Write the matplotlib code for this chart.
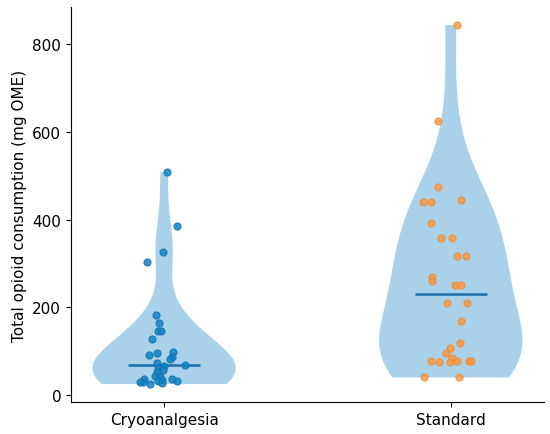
import matplotlib
matplotlib.use("Agg")
import matplotlib.pyplot as plt
import numpy as np

groups = ["Cryoanalgesia", "Standard"]

# total opioid consumption (mg OME)
cryo = [508, 386, 327, 304, 183, 165, 145, 145, 127, 96, 92, 97, 87, 82, 72,
        68, 66, 61, 57, 52, 44, 40, 37, 35, 33, 33, 37, 30, 29, 27, 25]
cryo_jitter = [0.01, 0.045, -0.005, -0.06, -0.03, -0.017, -0.02, -0.01, -0.043,
               -0.025, -0.052, 0.032, 0.028, 0.02, -0.025, 0.073, 0.0, -0.02,
               -0.005, -0.025, -0.032, -0.015, -0.07, -0.008, -0.02, 0.045,
               0.028, -0.074, -0.085, -0.007, -0.05]

standard = [844, 626, 474, 441, 441, 445, 392, 358, 358, 318, 318, 269, 261,
            250, 250, 210, 210, 168, 119, 107, 96, 78, 76, 84, 76, 78, 77, 77,
            40, 40]
standard_jitter = [0.02, -0.045, -0.043, -0.096, -0.07, 0.034, -0.07, -0.035,
                   0.003, 0.022, 0.054, -0.065, -0.065, 0.015, 0.036, -0.013,
                   0.056, 0.036, 0.033, -0.002, -0.017, -0.068, -0.04, 0.004,
                   -0.002, 0.022, 0.064, 0.07, -0.093, 0.03]

fig = plt.figure(figsize=(5.5, 4.35), dpi=100)
ax = fig.add_axes([0.129, 0.0736, 0.86, 0.908])

parts = ax.violinplot([cryo, standard], showmedians=True, showextrema=False)
for body in parts["bodies"]:
    body.set_facecolor("#a9d2ea")
    body.set_edgecolor("none")
    body.set_alpha(1)
parts["cmedians"].set_color("#1a6fab")
parts["cmedians"].set_linewidth(1.8)

ax.scatter(1 + np.array(cryo_jitter), cryo, s=26, color="#1283c4",
           edgecolor="#1172b0", linewidth=0.8, alpha=0.85, zorder=3)
ax.scatter(2 + np.array(standard_jitter), standard, s=26, color="#ff9538",
           edgecolor="#f08a30", linewidth=0.8, alpha=0.8, zorder=3)

ax.set_xticks([1, 2])
ax.set_xticklabels(groups, fontsize=11)
ax.set_yticks([0, 200, 400, 600, 800])
ax.tick_params(axis="y", labelsize=11)
ax.set_ylabel("Total opioid consumption (mg OME)", fontsize=11)
ax.spines["top"].set_visible(False)
ax.spines["right"].set_visible(False)

plt.savefig("out.png", dpi=100)
